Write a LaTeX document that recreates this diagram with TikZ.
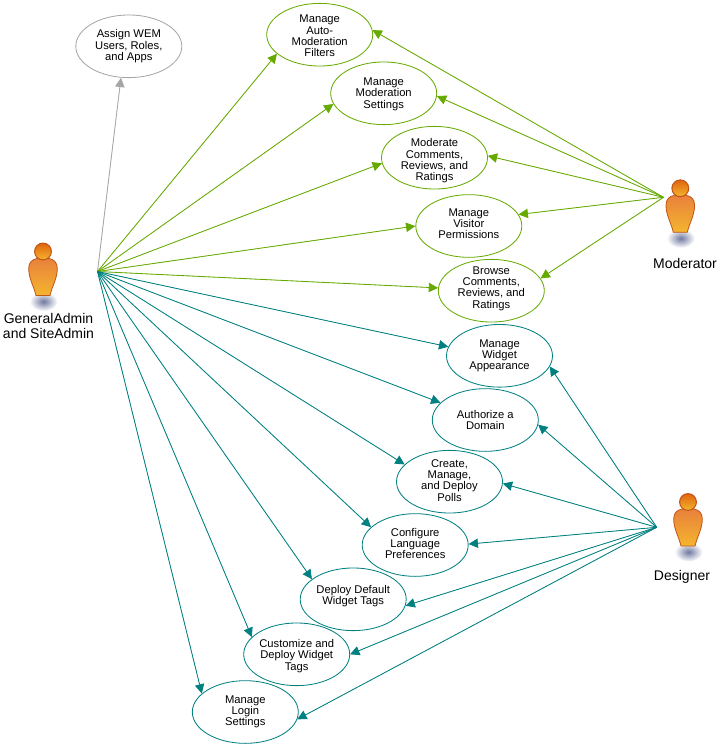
\documentclass[tikz,border=0pt]{standalone}
\usepackage{fontspec}
\setmainfont{Liberation Sans}
\usetikzlibrary{shapes.geometric,arrows.meta}
\definecolor{grn}{HTML}{66AA00}
\definecolor{tl}{HTML}{008080}
\definecolor{gry}{HTML}{A6A6A6}
\definecolor{edgeor}{HTML}{BF5518}
\definecolor{ortop}{HTML}{E9813C}
\definecolor{ormid}{HTML}{E0640E}
\definecolor{orbot}{HTML}{F4B52E}
\definecolor{shad}{HTML}{6F78A0}
\newcommand{\tdn}[1]{\rule{0pt}{#1}}
\tikzset{
  usecase/.style={ellipse,draw,fill=white,line width=0.62pt,inner xsep=0pt,inner ysep=-6pt,minimum width=79.5pt,minimum height=47pt,align=center,text=black,font=\fontsize{8.4}{8.4}\selectfont,
    execute at end node={\rule[-2pt]{0pt}{0pt}}},
  greenuc/.style={usecase,draw=grn},
  tealuc/.style={usecase,draw=tl},
  grayuc/.style={usecase,draw=gry},
  tup/.style={execute at end node={\rule[-#1]{0pt}{0pt}}},
  conn/.style={line width=0.62pt,-{Triangle[length=7pt,width=7pt]}},
  gconn/.style={conn,draw=grn,fill=grn},
  tconn/.style={conn,draw=tl,fill=tl},
  aconn/.style={conn,draw=gry,fill=gry},
  actorlabel/.style={align=center,inner sep=0pt,text=black,font=\fontsize{10.5}{10.7}\selectfont},
  actorbody/.style={draw=edgeor,line width=0.6pt,top color=ortop,middle color=ormid,bottom color=orbot},
  actorhead/.style={draw=edgeor,line width=0.8pt,top color=ormid,bottom color=orbot}
}
\newcommand{\actorfigure}[2]{%
  \begin{scope}[shift={(#1,#2)}]
    \shade[inner color=shad,outer color=white,draw=none] (0.5,50) ellipse [x radius=14,y radius=9.5];
    \path[actorbody] (-6,7) .. controls (-11,8) and (-14.3,11) .. (-14.3,17)
      .. controls (-14.3,27) and (-9,35) .. (-7,44) -- (7,44)
      .. controls (9,35) and (14.3,27) .. (14.3,17)
      .. controls (14.3,11) and (11,8) .. (6,7) -- cycle;
    \path[actorhead] (0,0) circle [radius=8.4];
  \end{scope}}
\begin{document}
\begin{tikzpicture}[x=0.75pt,y=-0.75pt]
\useasboundingbox (0,0) rectangle (726,753);
\fill[white] (0,0) rectangle (726,753);

\actorfigure{43}{251.5}
\actorfigure{680.3}{188.3}
\actorfigure{688}{502}

\node[actorlabel] (ga) at (48.5,326) {GeneralAdmin\\and SiteAdmin};
\node[actorlabel] (mod) at (685,263) {Moderator};
\node[actorlabel] (des) at (682,577) {Designer};

\coordinate (gahub) at (97.5,271.5);
\coordinate (modhub) at (663.5,197.3);
\coordinate (deshub) at (656.7,527.3);

\node[grayuc] (assign) at (128.8,46.3) {Assign WEM\\Users, Roles,\\and Apps};
\node[greenuc] (filters) at (319.7,34.7) {\tdn{9.5pt}Manage\\Auto-\\Moderation\\Filters};
\node[greenuc] (settings) at (383.7,93.3) {\tdn{7.5pt}Manage\\Moderation\\Settings};
\node[greenuc] (moderate) at (434.5,157.7) {\tdn{11pt}Moderate\\Comments,\\Reviews, and\\Ratings};
\node[greenuc,tup=3.5pt] (visitor) at (468.8,226) {Manage\\Visitor\\Permissions};
\node[greenuc,tup=5pt] (browse) at (491.3,290.7) {Browse\\Comments,\\Reviews, and\\Ratings};
\node[tealuc] (appearance) at (499.5,355.8) {Manage\\Widget\\Appearance};
\node[tealuc] (domain) at (485.3,420) {\tdn{7.5pt}Authorize a\\Domain};
\node[tealuc] (polls) at (449.5,481.7) {Create,\\Manage,\\and Deploy\\Polls};
\node[tealuc] (language) at (415.2,545) {Configure\\Language\\Preferences};
\node[tealuc,tup=6.5pt] (deftags) at (353.2,599.3) {Deploy Default\\Widget Tags};
\node[tealuc] (custom) at (296.7,654.3) {\tdn{9pt}Customize and\\Deploy Widget\\Tags};
\node[tealuc] (login) at (245.3,712) {Manage\\Login\\Settings};

\draw[aconn] (gahub) -- (assign.256.5);
\foreach \t/\a/\b in {filters/204.4/5,settings/192.4/357.3,moderate/186/2.9,visitor/180.8/13.1,browse/177.5/14.5}{
  \draw[gconn] (gahub) -- (\t.\a);
  \draw[gconn] (modhub) -- (\t.\b);
}
\foreach \t/\a/\b in {appearance/170/348.3,domain/159/355.6,polls/159/358.2,language/158/1.9,deftags/154.8/353.8,custom/159.3/0,login/157.6/352.2}{
  \draw[tconn] (gahub) -- (\t.\a);
  \draw[tconn] (deshub) -- (\t.\b);
}
\end{tikzpicture}
\end{document}
